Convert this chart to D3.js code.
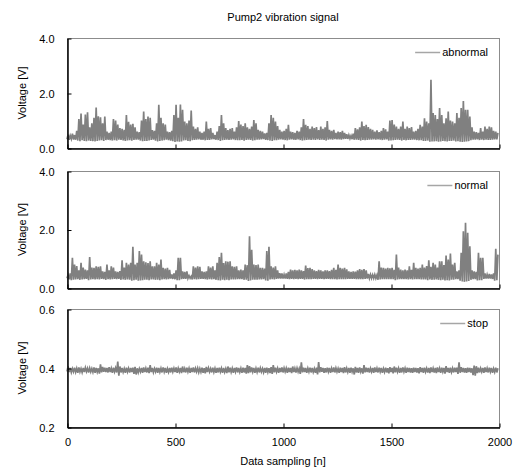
<!DOCTYPE html>
<html>
<head>
<meta charset="utf-8">
<script src="https://cdn.jsdelivr.net/npm/d3@7"></script>
<style>
  body { margin: 0; background: #fff; }
  text { font-family: "Liberation Sans", Arial, sans-serif; font-size: 11px; fill: #000; }
</style>
</head>
<body>
<script>
// x axis ticks
var xTicks = [0, 500, 1000, 1500, 2000];

// signal, one peak and one trough read per 10 samples
var abnormalPeak = [
  0.48,0.45,0.52,0.47,0.62,1.05,1.25,0.85,1.22,1.3,
  0.75,0.9,1.1,1.47,1.15,1.12,0.9,1.14,0.6,0.55,
  0.6,1.05,1.0,0.85,0.72,0.7,0.66,1.2,0.95,0.85,
  0.88,0.75,0.6,0.58,1.0,1.33,1.05,1.14,1.1,0.65,
  0.62,0.9,1.57,1.1,0.9,0.85,0.6,0.58,0.62,1.2,
  1.57,1.1,1.58,1.39,0.96,0.9,1.0,1.36,0.78,0.7,
  0.75,0.6,0.55,0.6,0.96,0.7,0.72,0.55,0.47,0.6,
  0.8,1.2,0.9,0.72,0.65,0.7,0.72,0.6,0.75,0.98,
  0.85,0.8,0.9,0.75,0.7,0.78,1.02,0.9,0.66,0.62,
  0.6,0.53,0.55,0.9,1.2,1.1,0.96,0.8,0.66,0.6,
  0.62,0.7,0.84,0.6,0.58,0.55,0.62,0.6,0.75,1.05,
  0.84,0.8,0.7,0.78,0.72,0.76,0.65,0.78,0.7,0.75,
  0.98,0.66,0.62,0.66,0.55,0.6,0.58,0.62,0.55,0.5,
  0.47,0.45,0.52,0.72,0.68,0.75,0.96,0.8,0.84,0.76,
  0.7,0.66,0.6,0.64,0.58,0.62,0.72,0.68,0.6,1.0,
  1.02,0.85,0.78,0.7,0.78,0.96,0.7,0.78,0.72,0.76,
  0.6,0.62,0.7,0.84,0.78,1.08,0.96,0.9,2.48,1.27,
  1.2,1.05,1.45,1.2,0.9,1.08,1.33,1.0,0.96,0.9,
  1.27,1.1,1.45,1.71,1.39,1.39,1.14,0.75,0.6,0.58,
  0.55,0.72,0.6,0.78,0.7,0.78,0.75,0.62,0.6,0.55
];
var abnormalTrough = [
  0.32,0.3,0.33,0.31,0.3,0.27,0.25,0.28,0.26,0.25,
  0.27,0.26,0.25,0.24,0.26,0.27,0.28,0.26,0.29,0.3,
  0.29,0.27,0.28,0.27,0.3,0.29,0.28,0.26,0.27,0.28,
  0.27,0.29,0.3,0.3,0.27,0.25,0.26,0.26,0.27,0.29,
  0.3,0.27,0.24,0.26,0.27,0.28,0.3,0.29,0.27,0.25,
  0.22,0.24,0.23,0.24,0.27,0.28,0.26,0.25,0.28,0.29,
  0.3,0.31,0.3,0.3,0.28,0.29,0.29,0.31,0.32,0.3,
  0.29,0.26,0.28,0.29,0.3,0.29,0.3,0.31,0.29,0.28,
  0.28,0.29,0.27,0.29,0.3,0.29,0.27,0.28,0.3,0.3,
  0.31,0.32,0.3,0.29,0.27,0.26,0.28,0.28,0.3,0.31,
  0.3,0.29,0.28,0.3,0.31,0.3,0.3,0.31,0.29,0.27,
  0.28,0.29,0.3,0.29,0.3,0.29,0.31,0.29,0.3,0.29,
  0.27,0.3,0.31,0.3,0.32,0.31,0.31,0.3,0.32,0.33,
  0.33,0.34,0.32,0.3,0.3,0.29,0.27,0.29,0.28,0.29,
  0.3,0.3,0.31,0.3,0.31,0.3,0.29,0.3,0.31,0.27,
  0.27,0.28,0.29,0.3,0.29,0.27,0.29,0.28,0.29,0.29,
  0.3,0.3,0.29,0.28,0.28,0.26,0.26,0.27,0.23,0.24,
  0.24,0.25,0.23,0.24,0.26,0.25,0.24,0.26,0.26,0.27,
  0.24,0.25,0.23,0.22,0.23,0.24,0.25,0.28,0.3,0.3,
  0.31,0.29,0.3,0.29,0.3,0.29,0.29,0.3,0.31,0.31
];

var normalPeak = [
  0.45,0.5,1.03,0.8,0.75,0.6,0.86,0.7,0.63,0.6,
  1.06,0.7,0.69,0.74,0.72,0.74,0.57,0.55,0.8,0.6,
  0.74,0.7,0.57,0.55,0.58,0.95,0.7,0.86,0.8,0.86,
  1.41,0.8,0.86,1.26,1.14,0.91,0.88,0.85,0.91,0.74,
  0.74,0.86,0.8,0.97,0.69,0.66,0.69,0.62,0.46,0.5,
  0.6,1.03,1.03,0.57,0.55,0.57,0.42,0.4,0.74,0.7,
  0.74,0.72,0.57,0.55,0.57,0.74,0.7,0.74,0.6,0.86,
  1.06,1.2,0.85,0.91,0.9,0.91,0.74,0.72,0.74,0.6,
  0.63,0.6,0.8,0.78,1.77,1.31,0.8,0.78,0.8,0.69,
  0.69,0.66,1.26,1.41,0.74,0.7,0.74,0.6,0.51,0.5,
  0.46,0.5,0.55,0.63,0.6,0.62,0.6,0.63,0.6,0.58,
  0.77,0.68,0.69,0.65,0.6,0.58,0.62,0.6,0.57,0.6,
  0.6,0.58,0.62,0.69,0.62,0.8,0.69,0.66,0.69,0.64,
  0.57,0.55,0.57,0.56,0.6,0.65,0.62,0.65,0.6,0.48,
  0.46,0.45,0.46,0.44,0.91,0.7,0.69,0.66,0.69,0.67,
  0.69,0.62,1.14,0.7,0.63,0.6,0.63,0.6,0.74,0.62,
  0.86,0.69,0.66,0.69,0.8,0.7,0.75,0.95,0.72,0.86,
  0.8,0.7,0.91,0.91,0.78,1.11,0.97,1.18,0.8,0.86,
  0.57,0.6,1.2,1.94,2.23,1.89,1.43,0.6,0.57,0.55,
  1.2,1.03,1.03,0.5,0.46,0.48,0.46,0.5,1.34,1.14
];
var normalTrough = [
  0.33,0.3,0.27,0.28,0.29,0.3,0.28,0.29,0.3,0.31,
  0.27,0.29,0.3,0.29,0.3,0.29,0.31,0.3,0.28,0.3,
  0.29,0.3,0.31,0.3,0.31,0.28,0.29,0.28,0.29,0.28,
  0.25,0.27,0.28,0.25,0.26,0.27,0.28,0.28,0.27,0.29,
  0.29,0.28,0.28,0.27,0.29,0.3,0.29,0.3,0.32,0.31,
  0.3,0.27,0.27,0.3,0.31,0.31,0.33,0.33,0.29,0.3,
  0.29,0.3,0.31,0.31,0.3,0.29,0.3,0.29,0.3,0.28,
  0.27,0.26,0.28,0.27,0.28,0.27,0.29,0.29,0.29,0.3,
  0.3,0.3,0.28,0.28,0.24,0.26,0.28,0.28,0.28,0.29,
  0.29,0.3,0.26,0.25,0.29,0.3,0.29,0.31,0.32,0.32,
  0.32,0.32,0.31,0.3,0.31,0.3,0.31,0.3,0.31,0.31,
  0.29,0.3,0.3,0.3,0.31,0.31,0.3,0.31,0.31,0.3,
  0.31,0.31,0.3,0.3,0.3,0.29,0.3,0.3,0.3,0.3,
  0.31,0.31,0.31,0.31,0.3,0.3,0.3,0.3,0.31,0.32,
  0.33,0.33,0.33,0.33,0.28,0.29,0.3,0.3,0.3,0.3,
  0.3,0.3,0.27,0.29,0.3,0.3,0.3,0.3,0.29,0.3,
  0.29,0.3,0.3,0.3,0.29,0.29,0.29,0.27,0.29,0.28,
  0.28,0.29,0.28,0.27,0.28,0.26,0.27,0.26,0.28,0.28,
  0.3,0.3,0.25,0.22,0.21,0.22,0.24,0.28,0.3,0.3,
  0.26,0.27,0.27,0.31,0.32,0.32,0.32,0.31,0.25,0.27
];

var stopPeak = [
  0.405,0.4,0.398,0.401,0.399,0.402,0.398,0.4,0.401,0.399,
  0.4,0.398,0.402,0.4,0.399,0.412,0.404,0.401,0.4,0.403,
  0.399,0.401,0.4,0.422,0.405,0.4,0.398,0.401,0.399,0.4,
  0.401,0.404,0.399,0.398,0.4,0.402,0.399,0.401,0.41,0.4,
  0.398,0.401,0.4,0.399,0.402,0.4,0.398,0.4,0.401,0.399,
  0.402,0.399,0.4,0.405,0.398,0.401,0.399,0.4,0.402,0.399,
  0.4,0.398,0.401,0.399,0.404,0.4,0.398,0.401,0.399,0.4,
  0.401,0.399,0.4,0.398,0.405,0.401,0.399,0.4,0.402,0.4,
  0.399,0.401,0.4,0.41,0.406,0.402,0.4,0.399,0.401,0.4,
  0.398,0.4,0.401,0.399,0.403,0.41,0.401,0.399,0.4,0.402,
  0.4,0.399,0.401,0.4,0.405,0.399,0.4,0.398,0.419,0.401,
  0.4,0.399,0.401,0.4,0.398,0.401,0.42,0.403,0.4,0.399,
  0.401,0.4,0.399,0.402,0.4,0.398,0.401,0.4,0.403,0.399,
  0.4,0.401,0.399,0.404,0.4,0.402,0.399,0.41,0.401,0.4,
  0.399,0.4,0.402,0.399,0.401,0.4,0.398,0.401,0.399,0.403,
  0.4,0.405,0.401,0.399,0.4,0.402,0.399,0.401,0.4,0.399,
  0.401,0.4,0.399,0.403,0.4,0.401,0.399,0.4,0.402,0.399,
  0.4,0.402,0.399,0.401,0.4,0.406,0.4,0.401,0.399,0.401,
  0.401,0.419,0.403,0.4,0.399,0.401,0.4,0.399,0.408,0.406,
  0.401,0.399,0.4,0.402,0.399,0.401,0.4,0.398,0.401,0.399
];
var stopTrough = [
  0.388,0.386,0.385,0.387,0.386,0.384,0.387,0.385,0.386,0.388,
  0.385,0.387,0.386,0.384,0.386,0.381,0.385,0.387,0.386,0.385,
  0.386,0.384,0.387,0.385,0.374,0.385,0.386,0.384,0.387,0.385,
  0.386,0.38,0.378,0.385,0.387,0.384,0.386,0.385,0.383,0.386,
  0.385,0.387,0.384,0.386,0.385,0.387,0.384,0.386,0.385,0.387,
  0.386,0.384,0.387,0.383,0.386,0.385,0.387,0.384,0.386,0.385,
  0.387,0.385,0.386,0.384,0.382,0.386,0.387,0.385,0.386,0.384,
  0.385,0.387,0.384,0.386,0.383,0.385,0.386,0.384,0.387,0.385,
  0.386,0.384,0.385,0.381,0.383,0.385,0.387,0.384,0.386,0.385,
  0.387,0.385,0.384,0.386,0.383,0.38,0.385,0.387,0.384,0.386,
  0.385,0.387,0.384,0.386,0.383,0.386,0.385,0.387,0.38,0.385,
  0.386,0.384,0.387,0.385,0.386,0.384,0.378,0.385,0.387,0.384,
  0.385,0.387,0.384,0.386,0.385,0.387,0.384,0.386,0.383,0.385,
  0.386,0.384,0.387,0.378,0.385,0.384,0.387,0.381,0.385,0.386,
  0.385,0.387,0.384,0.386,0.385,0.387,0.384,0.386,0.385,0.382,
  0.386,0.382,0.385,0.387,0.384,0.385,0.387,0.384,0.386,0.385,
  0.384,0.386,0.385,0.382,0.386,0.384,0.387,0.385,0.383,0.386,
  0.385,0.383,0.386,0.384,0.387,0.381,0.386,0.384,0.386,0.385,
  0.386,0.38,0.384,0.386,0.385,0.384,0.386,0.385,0.376,0.374,
  0.383,0.385,0.387,0.384,0.386,0.385,0.387,0.384,0.386,0.385
];

var width = 520, height = 473;
var left = 67, right = 499;

var svg = d3.select("body").append("svg")
    .attr("width", width)
    .attr("height", height);

var xScale = d3.scaleLinear().domain([0, 2000]).range([left, right]);

var panels = [
  {name: "abnormal", peak: abnormalPeak, trough: abnormalTrough, top: 38, bottom: 148, domain: [0, 4], ticks: [0, 2, 4]},
  {name: "normal", peak: normalPeak, trough: normalTrough, top: 171, bottom: 288, domain: [0, 4], ticks: [0, 2, 4]},
  {name: "stop", peak: stopPeak, trough: stopTrough, top: 309, bottom: 427, domain: [0.2, 0.6], ticks: [0.2, 0.4, 0.6]}
];

// title
svg.append("text")
    .attr("x", (left + right) / 2)
    .attr("y", 21)
    .attr("text-anchor", "middle")
    .text("Pump2 vibration signal");

panels.forEach(function(p, k) {
  var yScale = d3.scaleLinear().domain(p.domain).range([p.bottom, p.top]);

  // trough then peak for every 10-sample bin
  var pts = [];
  p.peak.forEach(function(v, i) {
    pts.push([i * 10, p.trough[i]]);
    pts.push([i * 10 + 5, v]);
  });

  // frame
  svg.append("rect")
      .attr("x", left + 0.5)
      .attr("y", p.top + 0.5)
      .attr("width", right - left)
      .attr("height", p.bottom - p.top)
      .style("fill", "none")
      .style("stroke", "#8c8c8c")
      .style("stroke-width", 1);

  // signal
  var line = d3.line()
      .x(function(d) { return xScale(d[0]); })
      .y(function(d) { return yScale(d[1]); });

  svg.append("path")
      .datum(pts)
      .attr("d", line)
      .style("fill", "none")
      .style("stroke", "#808080")
      .style("stroke-width", 1.7);

  // y axis
  var yAxis = d3.axisLeft(yScale)
      .tickValues(p.ticks)
      .tickFormat(d3.format(".1f"))
      .tickSize(-4)
      .tickSizeOuter(0)
      .tickPadding(13);

  var gy = svg.append("g")
      .attr("transform", "translate(" + (left + 0.5) + ",0.5)")
      .call(yAxis);
  gy.select(".domain").style("stroke", "#000").style("stroke-width", 1.5);
  gy.selectAll("text").style("font-size", "11px").style("font-family", "'Liberation Sans', Arial, sans-serif");

  // x axis
  var xAxis = d3.axisBottom(xScale)
      .tickValues(xTicks)
      .tickSize(-4)
      .tickSizeOuter(0)
      .tickPadding(11)
      .tickFormat(k == 2 ? d3.format("d") : "");

  var gx = svg.append("g")
      .attr("transform", "translate(0.5," + (p.bottom + 0.5) + ")")
      .call(xAxis);
  gx.select(".domain").style("stroke", "#000").style("stroke-width", 1.5);
  gx.selectAll("text").style("font-size", "11px").style("font-family", "'Liberation Sans', Arial, sans-serif");

  // y label
  svg.append("text")
      .attr("transform", "translate(26," + ((p.top + p.bottom) / 2) + ") rotate(-90)")
      .attr("text-anchor", "middle")
      .text("Voltage [V]");

  // legend
  var lg = svg.append("text")
      .attr("x", 488)
      .attr("y", p.top + 18)
      .attr("text-anchor", "end")
      .text(p.name);
  var tw = lg.node().getComputedTextLength();
  svg.append("line")
      .attr("x1", 488 - tw - 27)
      .attr("x2", 488 - tw - 2)
      .attr("y1", p.top + 14.5)
      .attr("y2", p.top + 14.5)
      .style("stroke", "#a6a6a6")
      .style("stroke-width", 1.5);
});

// x label
svg.append("text")
    .attr("x", (left + right) / 2)
    .attr("y", 465)
    .attr("text-anchor", "middle")
    .text("Data sampling [n]");
</script>
</body>
</html>
